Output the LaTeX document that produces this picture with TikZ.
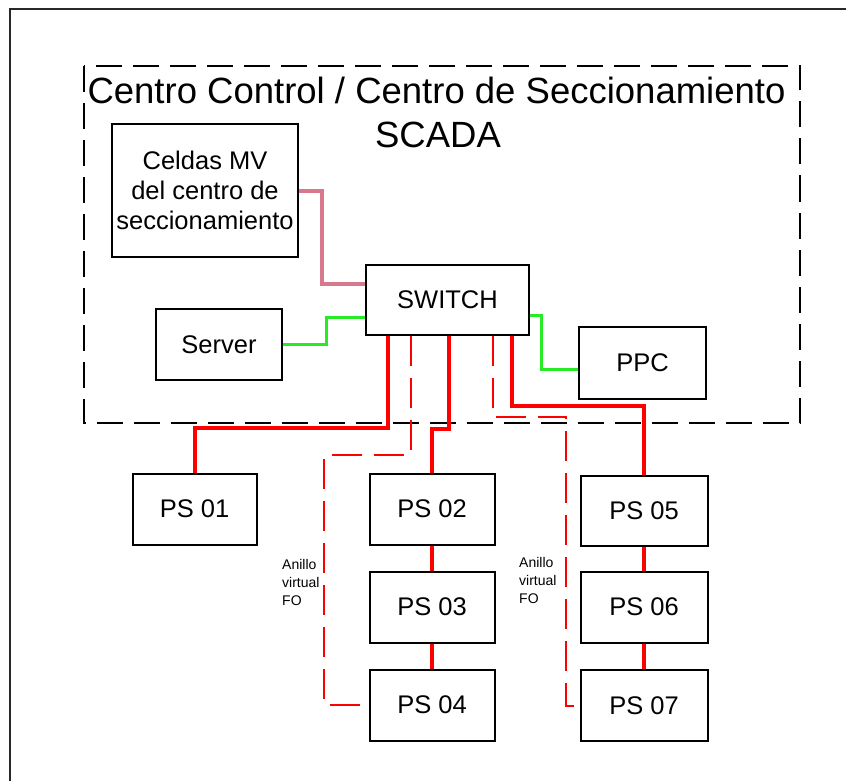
\documentclass[tikz,border=0pt]{standalone}
\usepackage{fontspec}
\setmainfont{Liberation Sans}
\definecolor{lred}{RGB}{255,0,0}
\definecolor{lgreen}{RGB}{40,235,40}
\definecolor{lpink}{RGB}{215,120,140}
\definecolor{lframe}{RGB}{40,40,40}
\tikzset{
  box/.style={draw=black, line width=2pt, rectangle, inner sep=0pt, font=\fontsize{25.5}{30}\selectfont, align=center},
  psbox/.style={box, minimum width=125pt, minimum height=71pt},
  redsolid/.style={draw=lred, line width=4pt},
  reddash/.style={draw=lred, line width=2pt, dash pattern=on 30pt off 12pt},
  greenline/.style={draw=lgreen, line width=3pt},
  pinkline/.style={draw=lpink, line width=4pt},
  dashbox/.style={draw=black, line width=2pt, dash pattern=on 26pt off 11pt},
  bigtext/.style={font=\fontsize{36.5}{40}\selectfont, inner sep=0pt},
  smalltext/.style={font=\fontsize{14}{18}\selectfont, align=left, inner sep=0pt},
}
\begin{document}
\begin{tikzpicture}[x=1pt,y=-1pt]
\useasboundingbox (0,0) rectangle (846,781);
% outer frame
\draw[lframe, line width=1.5pt] (10,781) -- (10,9) -- (846,9);
% dashed control centre box
\draw[dashbox] (83.5,66) rectangle (800,423);
\node[bigtext] (title) at (436.5,90) {Centro Control / Centro de Seccionamiento};
\node[bigtext] (scada) at (438,135) {SCADA};
% nodes
\node[box, minimum width=186pt, minimum height=132.5pt] (celdas) at (205,190.75) {Celdas MV\\del centro de\\seccionamiento};
\node[box, minimum width=163pt, minimum height=70pt] (switch) at (447.5,300) {SWITCH};
\node[box, minimum width=126pt, minimum height=71pt] (server) at (219,344.5) {Server};
\node[box, minimum width=127pt, minimum height=72pt] (ppc) at (642.5,363) {PPC};
\node[psbox, minimum width=124pt] (ps01) at (194.5,509) {PS 01};
\node[psbox] (ps02) at (432,509) {PS 02};
\node[psbox] (ps03) at (432,607) {PS 03};
\node[psbox] (ps04) at (432,705) {PS 04};
\node[psbox, minimum width=127pt, minimum height=70pt] (ps05) at (644,510.5) {PS 05};
\node[psbox, minimum width=127pt] (ps06) at (644,607) {PS 06};
\node[psbox, minimum width=127pt] (ps07) at (644,705.5) {PS 07};
\node[smalltext, anchor=west] (anillo1) at (282,582) {Anillo\\virtual\\FO};
\node[smalltext, anchor=west] (anillo2) at (519,580) {Anillo\\virtual\\FO};
% pink link
\coordinate (p1) at (322,284);
\draw[pinkline] (celdas.east) -| (p1) -- (p1 -| switch.west);
% green links
\coordinate (g1) at (326.5,317);
\draw[greenline] (server.east) -| (g1) -- (g1 -| switch.west);
\coordinate (g2) at (541,315);
\draw[greenline] (g2 -| switch.east) -- (g2) |- ([yshift=-6pt]ppc.west);
% red solid links
\coordinate (r1) at (387.5,428);
\draw[redsolid] (r1 |- switch.south) -- (r1) -| (ps01.north);
\coordinate (r2) at (448.5,429);
\draw[redsolid] (r2 |- switch.south) -- (r2) -| (ps02.north);
\coordinate (r3) at (511.5,406);
\draw[redsolid] (r3 |- switch.south) -- (r3) -| (ps05.north);
\draw[redsolid] (ps02) -- (ps03);
\draw[redsolid] (ps03) -- (ps04);
\draw[redsolid] (ps05) -- (ps06);
\draw[redsolid] (ps06) -- (ps07);
% red dashed virtual rings
\coordinate (d1) at (411,455);
\coordinate (d1b) at (324,705);
\draw[reddash] (d1 |- switch.south) -- (d1) -| (d1b) -- (ps04.west);
\coordinate (d2) at (493,417);
\coordinate (d2b) at (566,705.5);
\draw[reddash] (d2 |- switch.south) -- (d2) -| (d2b) -- (ps07.west);
\end{tikzpicture}
\end{document}
